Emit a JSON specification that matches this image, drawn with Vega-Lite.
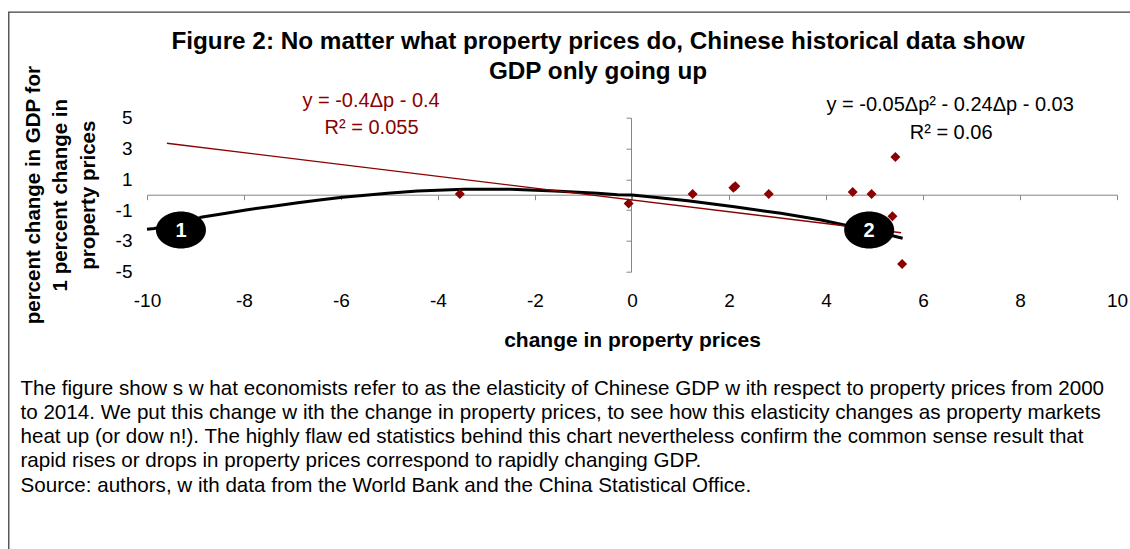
{
  "$schema": "https://vega.github.io/schema/vega-lite/v6.json",
  "autosize": "none",
  "width": 970,
  "height": 154,
  "padding": {"left": 147, "top": 117.7, "right": 13, "bottom": 277.3},
  "background": "white",
  "config": {
    "view": {"stroke": null},
    "font": "Liberation Sans",
    "axis": {"grid": false}
  },
  "title": {
    "text": ["Figure 2: No matter what property prices do, Chinese historical data show", "GDP only going up"],
    "font": "Liberation Sans",
    "fontSize": 24.3,
    "fontWeight": "bold",
    "color": "black",
    "anchor": "middle",
    "frame": "group",
    "dx": -34,
    "baseline": "alphabetic",
    "lineHeight": 30,
    "offset": -92
  },
  "datasets": {
    "frame": [{"part": "figure frame"}],
    "curve": [
      {"dp": -10.0, "elasticity": -2.25},
      {"dp": -9.85, "elasticity": -2.2},
      {"dp": -9.3, "elasticity": -1.85},
      {"dp": -8.89, "elasticity": -1.47},
      {"dp": -8.4, "elasticity": -1.22},
      {"dp": -7.96, "elasticity": -0.99},
      {"dp": -7.4, "elasticity": -0.75},
      {"dp": -6.89, "elasticity": -0.52},
      {"dp": -6.4, "elasticity": -0.33},
      {"dp": -5.97, "elasticity": -0.17},
      {"dp": -5.5, "elasticity": -0.04},
      {"dp": -5.04, "elasticity": 0.09},
      {"dp": -4.42, "elasticity": 0.24},
      {"dp": -3.46, "elasticity": 0.35},
      {"dp": -2.5, "elasticity": 0.36},
      {"dp": -1.6, "elasticity": 0.24},
      {"dp": -0.71, "elasticity": 0.09},
      {"dp": -0.3, "elasticity": 0.0},
      {"dp": 0.0, "elasticity": -0.02},
      {"dp": 0.46, "elasticity": -0.17},
      {"dp": 1.15, "elasticity": -0.39},
      {"dp": 2.11, "elasticity": -0.78},
      {"dp": 3.07, "elasticity": -1.21},
      {"dp": 3.9, "elasticity": -1.64},
      {"dp": 4.38, "elasticity": -1.97},
      {"dp": 4.9, "elasticity": -2.3},
      {"dp": 5.31, "elasticity": -2.62},
      {"dp": 5.58, "elasticity": -2.83}
    ],
    "trend": [
      {"dp": -9.59, "elasticity": 3.34},
      {"dp": 5.55, "elasticity": -2.47}
    ],
    "obs": [
      {"dp": -3.55, "elasticity": 0.05},
      {"dp": -0.07, "elasticity": -0.57},
      {"dp": 1.25, "elasticity": 0.05},
      {"dp": 2.09, "elasticity": 0.45},
      {"dp": 2.13, "elasticity": 0.55},
      {"dp": 2.82, "elasticity": 0.05},
      {"dp": 4.55, "elasticity": 0.18},
      {"dp": 4.94, "elasticity": 0.05},
      {"dp": 5.43, "elasticity": 2.45},
      {"dp": 5.37, "elasticity": -1.4},
      {"dp": 5.57, "elasticity": -4.5}
    ],
    "bubbles": [
      {"dp": -9.3, "elasticity": -2.29, "label": "1"},
      {"dp": 4.89, "elasticity": -2.29, "label": "2"}
    ],
    "eqRed": [
      {"dp": -5.38, "elasticity": 6.07, "text": "y = -0.4Δp - 0.4"},
      {"dp": -5.37, "elasticity": 4.35, "text": "R² = 0.055"}
    ],
    "eqBlack": [
      {"dp": 6.56, "elasticity": 5.82, "text": "y = -0.05Δp² - 0.24Δp - 0.03"},
      {"dp": 6.58, "elasticity": 3.99, "text": "R² = 0.06"}
    ]
  },
  "resolve": {"axis": {"x": "independent", "y": "independent"}},
  "layer": [
    {
      "data": {"name": "frame"},
      "mark": {"type": "rect", "fill": "transparent", "stroke": "#404040", "strokeWidth": 1.3, "clip": false},
      "encoding": {
        "x": {"datum": -12.85, "type": "quantitative", "scale": {"domain": [-10, 10], "nice": false, "zero": false}, "axis": null},
        "x2": {"datum": 11.5},
        "y": {"datum": 11.86, "type": "quantitative", "scale": {"domain": [-5, 5], "nice": false, "zero": false}, "axis": null},
        "y2": {"datum": -26}
      }
    },
    {
      "data": {"name": "curve"},
      "mark": {"type": "line", "color": "black", "strokeWidth": 3, "strokeJoin": "round"},
      "encoding": {
        "x": {"field": "dp", "type": "quantitative", "scale": {"domain": [-10, 10], "nice": false, "zero": false},
          "axis": {"orient": "bottom", "offset": -77, "values": [-10, -8, -6, -4, -2, 0, 2, 4, 6, 8, 10], "labels": false, "ticks": true, "tickSize": 5, "tickWidth": 1, "tickColor": "#868686", "domainColor": "#868686", "domainWidth": 1, "title": null, "grid": false}},
        "y": {"field": "elasticity", "type": "quantitative", "scale": {"domain": [-5, 5], "nice": false, "zero": false},
          "axis": {"orient": "left", "offset": -484, "values": [-5, -3, -1, 1, 3, 5], "labels": false, "ticks": true, "tickSize": 5, "tickWidth": 1, "tickColor": "#868686", "domainColor": "#868686", "domainWidth": 1, "title": null, "grid": false}}
      }
    },
    {
      "data": {"name": "trend"},
      "mark": {"type": "line", "color": "#8B0000", "strokeWidth": 1.3},
      "encoding": {
        "x": {"field": "dp", "type": "quantitative", "scale": {"domain": [-10, 10], "nice": false, "zero": false},
          "axis": {"orient": "bottom", "values": [-10, -8, -6, -4, -2, 0, 2, 4, 6, 8, 10], "domain": false, "ticks": false, "tickSize": 0, "labelPadding": 20, "labelFontSize": 19, "labelColor": "black", "labelFont": "Liberation Sans", "labelExpr": "'' + datum.value", "labelFlush": false, "labelOverlap": false,
            "title": "change in property prices", "titleFontSize": 21, "titleFontWeight": "bold", "titleColor": "black", "titleFont": "Liberation Sans", "titleBaseline": "alphabetic", "titleY": 75, "grid": false}},
        "y": {"field": "elasticity", "type": "quantitative", "scale": {"domain": [-5, 5], "nice": false, "zero": false},
          "axis": {"orient": "left", "values": [-5, -3, -1, 1, 3, 5], "domain": false, "ticks": false, "tickSize": 0, "labelPadding": 15, "labelFontSize": 19, "labelColor": "black", "labelFont": "Liberation Sans", "labelExpr": "'' + datum.value", "labelFlush": false, "labelOverlap": false,
            "title": ["percent change in GDP for", "1 percent change in", "property prices"], "titleFontSize": 20.5, "titleFontWeight": "bold", "titleColor": "black", "titleFont": "Liberation Sans", "titleAngle": 270, "titleBaseline": "middle", "titleAlign": "center", "titleX": -114, "titleY": 77, "titleLineHeight": 27.5, "grid": false}}
      }
    },
    {
      "data": {"name": "obs"},
      "mark": {"type": "point", "shape": "diamond", "filled": true, "color": "#8B0000", "size": 100, "opacity": 1},
      "encoding": {
        "x": {"field": "dp", "type": "quantitative", "scale": {"domain": [-10, 10], "nice": false, "zero": false},
          "axis": {"orient": "bottom", "domain": false, "ticks": false, "labels": false, "grid": false,
            "title": ["The figure show s w hat economists refer to as the elasticity of Chinese GDP w ith respect to property prices from 2000", "to 2014. We put this change w ith the change in property prices, to see how  this elasticity changes as property markets", "heat up (or dow n!). The highly flaw ed statistics behind this chart nevertheless confirm the common sense result that", "rapid rises or drops in property prices correspond to rapidly changing GDP.", "Source: authors, w ith data from the World Bank and the China Statistical Office."],
            "titleFont": "Liberation Sans", "titleFontSize": 20.6, "titleFontWeight": "normal", "titleColor": "black", "titleAlign": "left", "titleAnchor": "start", "titleBaseline": "alphabetic", "titleAngle": 0, "titleX": -127, "titleY": 122.7, "titleLineHeight": 24.2}},
        "y": {"field": "elasticity", "type": "quantitative", "scale": {"domain": [-5, 5], "nice": false, "zero": false}, "axis": null}
      }
    },
    {
      "data": {"name": "bubbles"},
      "mark": {"type": "point", "shape": "M-1,0C-1,-0.4087,-0.5523,-0.74,0,-0.74C0.5523,-0.74,1,-0.4087,1,0C1,0.4087,0.5523,0.74,0,0.74C-0.5523,0.74,-1,0.4087,-1,0Z", "filled": true, "color": "black", "size": 2500, "opacity": 1},
      "encoding": {
        "x": {"field": "dp", "type": "quantitative", "scale": {"domain": [-10, 10], "nice": false, "zero": false}, "axis": null},
        "y": {"field": "elasticity", "type": "quantitative", "scale": {"domain": [-5, 5], "nice": false, "zero": false}, "axis": null}
      }
    },
    {
      "data": {"name": "bubbles"},
      "mark": {"type": "text", "color": "white", "fontSize": 20, "fontWeight": "bold", "align": "center", "baseline": "middle", "dy": 1},
      "encoding": {
        "x": {"field": "dp", "type": "quantitative", "scale": {"domain": [-10, 10], "nice": false, "zero": false}, "axis": null},
        "y": {"field": "elasticity", "type": "quantitative", "scale": {"domain": [-5, 5], "nice": false, "zero": false}, "axis": null},
        "text": {"field": "label"}
      }
    },
    {
      "data": {"name": "eqRed"},
      "mark": {"type": "text", "color": "#8B0000", "fontSize": 20, "align": "center", "baseline": "middle", "clip": false},
      "encoding": {
        "x": {"field": "dp", "type": "quantitative", "scale": {"domain": [-10, 10], "nice": false, "zero": false}, "axis": null},
        "y": {"field": "elasticity", "type": "quantitative", "scale": {"domain": [-5, 5], "nice": false, "zero": false}, "axis": null},
        "text": {"field": "text"}
      }
    },
    {
      "data": {"name": "eqBlack"},
      "mark": {"type": "text", "color": "black", "fontSize": 20, "align": "center", "baseline": "middle", "clip": false},
      "encoding": {
        "x": {"field": "dp", "type": "quantitative", "scale": {"domain": [-10, 10], "nice": false, "zero": false}, "axis": null},
        "y": {"field": "elasticity", "type": "quantitative", "scale": {"domain": [-5, 5], "nice": false, "zero": false}, "axis": null},
        "text": {"field": "text"}
      }
    }
  ]
}
